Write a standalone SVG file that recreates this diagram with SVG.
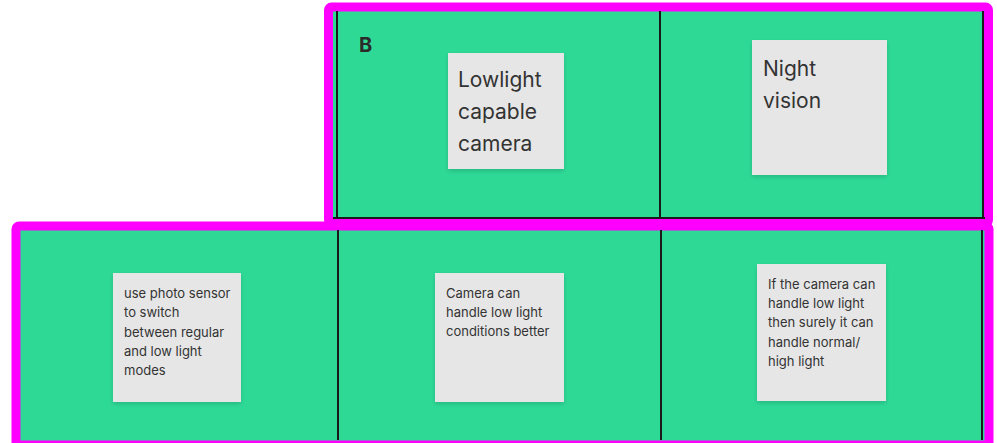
<svg xmlns="http://www.w3.org/2000/svg" width="997" height="443" viewBox="0 0 997 443">
<defs>
<style>
.frame{fill:#2ed996;stroke:#ff00ff;stroke-width:9}
.grid{stroke:#1a1a1a;stroke-width:2;fill:none}
.sticky{fill:#e6e6e6;filter:url(#sh)}
.big{font-family:Inter,"Noto Sans",sans-serif;font-size:21px;fill:#333}
.small{font-family:Inter,"Noto Sans",sans-serif;font-size:13px;fill:#333}
.lbl{font-family:Inter,"Noto Sans",sans-serif;font-size:20px;font-weight:700;fill:#2b2b2b}
</style>
<filter id="sh" x="-10%" y="-10%" width="120%" height="125%">
<feDropShadow dx="0" dy="2" stdDeviation="2" flood-color="#000" flood-opacity="0.15"/>
</filter>
</defs>
<g id="frame-top">
<rect class="frame" x="328.5" y="7" width="660" height="216" rx="3"/>
</g>
<g id="frame-bottom">
<rect class="frame" x="16" y="226" width="973" height="219" rx="3"/>
</g>
<g id="grid">
<line class="grid" x1="337" y1="11" x2="337" y2="219"/>
<line class="grid" x1="660" y1="11" x2="660" y2="219"/>
<line class="grid" x1="983" y1="11" x2="983" y2="219"/>
<line class="grid" x1="333" y1="218" x2="985" y2="218"/>
<line class="grid" x1="338" y1="230" x2="338" y2="440"/>
<line class="grid" x1="661" y1="230" x2="661" y2="440"/>
<line class="grid" x1="982" y1="230" x2="982" y2="440"/>
</g>
<g id="label-b"><text class="lbl" x="359" y="52">B</text></g>
<g id="sticky-lowlight">
<rect class="sticky" x="448" y="53" width="116" height="116"/>
<text class="big" x="458" y="87">Lowlight</text>
<text class="big" x="458" y="119">capable</text>
<text class="big" x="458" y="151">camera</text>
</g>
<g id="sticky-night">
<rect class="sticky" x="752" y="40" width="135" height="135"/>
<text class="big" x="763" y="76">Night</text>
<text class="big" x="763" y="108">vision</text>
</g>
<g id="sticky-sensor">
<rect class="sticky" x="113" y="273" width="128" height="129"/>
<text class="small" x="124" y="298">use photo sensor</text>
<text class="small" x="124" y="317">to switch</text>
<text class="small" x="124" y="337">between regular</text>
<text class="small" x="124" y="356">and low light</text>
<text class="small" x="124" y="375">modes</text>
</g>
<g id="sticky-camera">
<rect class="sticky" x="435" y="273" width="129" height="129"/>
<text class="small" x="446" y="298">Camera can</text>
<text class="small" x="446" y="317">handle low light</text>
<text class="small" x="446" y="336">conditions better</text>
</g>
<g id="sticky-surely">
<rect class="sticky" x="757" y="264" width="129" height="137"/>
<text class="small" x="768" y="289">If the camera can</text>
<text class="small" x="768" y="308">handle low light</text>
<text class="small" x="768" y="327">then surely it can</text>
<text class="small" x="768" y="347">handle normal/</text>
<text class="small" x="768" y="366">high light</text>
</g>
</svg>
